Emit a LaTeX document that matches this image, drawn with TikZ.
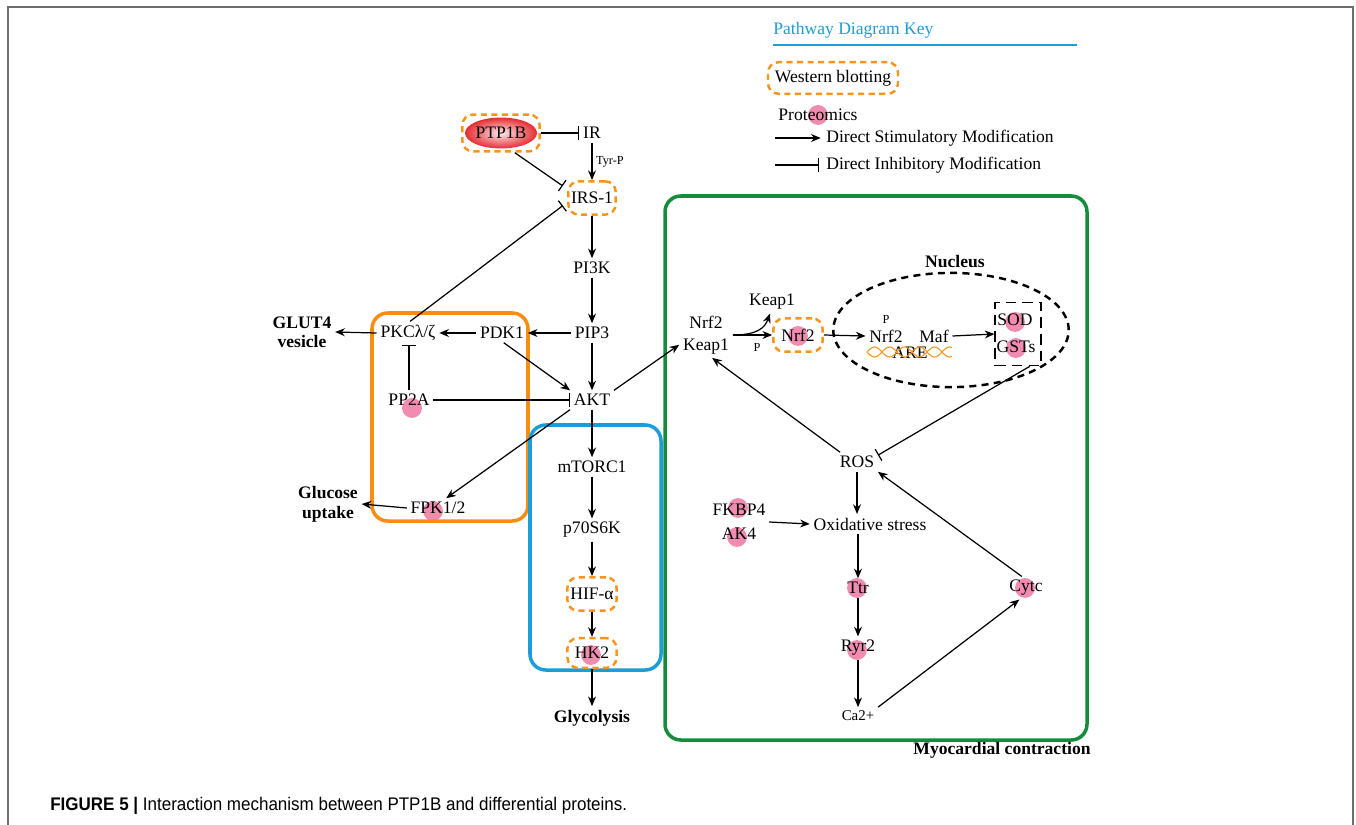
\documentclass[tikz,border=0pt]{standalone}
\usepackage{fontspec}
\setmainfont{Liberation Serif}
\newfontfamily\capfont[FakeStretch=0.93]{Liberation Sans}
\usetikzlibrary{arrows.meta, positioning, calc, backgrounds, shapes.geometric}
\definecolor{wbcolor}{RGB}{247, 148, 29}
\definecolor{protcolor}{RGB}{240, 140, 175}
\definecolor{ptpcolor}{RGB}{230, 45, 50}
\definecolor{glucocolor}{RGB}{247, 142, 20}
\definecolor{mtorcolor}{RGB}{27, 157, 217}
\definecolor{myocolor}{RGB}{20, 140, 60}
\definecolor{framecolor}{RGB}{110, 110, 110}

\begin{document}
\begin{tikzpicture}[
        x=0.02cm, y=-0.02cm,
        font=\fontsize{10}{12.5}\selectfont,
        >={Stealth[length=5.5pt, width=4.5pt]},
        gene/.style={inner sep=2pt, align=center},
        small/.style={inner sep=1pt, font=\fontsize{7}{8}\selectfont},
        outcome/.style={inner sep=2pt, align=center, font=\fontsize{10}{11.5}\selectfont\bfseries},
        wb/.style={draw=wbcolor, line width=1.4pt, dash pattern=on 3.5pt off 2.5pt, rounded corners=6pt, inner sep=1pt},
        pdot/.style={circle, fill=protcolor, minimum size=11.3pt, inner sep=0pt},
        stim/.style={->, line width=0.7pt},
        inhib/.style={-{Bar[width=7.5pt]}, line width=0.7pt},
        zone/.style={line width=2pt, rounded corners=9pt}
    ]
        \useasboundingbox (0,0) rectangle (1356,825);
        \draw[framecolor, line width=1.1pt] (8,825) -- (8,7) -- (1353,7) -- (1353,825);

        % Pathway boxes
        \draw[zone, glucocolor] (372,313) rectangle (528,521);
        \draw[zone, mtorcolor] (530,425) rectangle (661,670);
        \draw[zone, myocolor] (665,196) rectangle (1087,740);

        % Insulin signalling
        \node (ptp) [wb, minimum width=44pt, minimum height=21pt] at (501,133) {PTP1B};
        \node (ir) [gene] at (592,133) {IR};
        \node (irs) [wb, minimum width=27pt, minimum height=19pt] at (592,198) {IRS-1};
        \node (pi3k) [gene] at (592,268) {PI3K};
        \node (pip3) [gene] at (592,333) {PIP3};
        \node (pdk) [gene] at (502,333) {PDK1};
        \node (pkc) [gene] at (408,333) {PKCλ/ζ};
        \node (glut) [outcome, font=\fontsize{10}{11}\selectfont\bfseries] at (302,332) {GLUT4\\vesicle};
        \node (pp2a) [gene] at (409,400) {PP2A};
        \node (akt) [gene] at (592,400) {AKT};
        \node (fpk) [gene] at (438,508) {FPK1/2};
        \node (glucose) [outcome] at (328,504) {Glucose\\uptake};

        % mTOR branch
        \node (mtorc) [gene] at (592,467) {mTORC1};
        \node (p70) [gene] at (592,530) {p70S6K};
        \node (hif) [wb, minimum width=28pt, minimum height=19pt] at (592,594) {HIF-α};
        \node (hk) [wb, minimum width=28pt, minimum height=17pt] at (592,653) {HK2};
        \node (glyco) [outcome] at (592,718) {Glycolysis};

        % Nrf2 / Keap1 and nucleus
        \node (nk) [gene] at (706,335) {Nrf2\\Keap1};
        \node (keap) [gene] at (772,302) {Keap1};
        \node (nrf) [wb, minimum width=28pt, minimum height=19pt] at (798,335) {Nrf2};
        \node (nucnrf) [gene] at (886,336) {Nrf2};
        \node (maf) [gene] at (934,336) {Maf};
        \node (are) [gene] at (910,353) {ARE};
        \node (sodbox) [draw, line width=0.8pt, dash pattern=on 6pt off 3.5pt, minimum width=26pt, minimum height=36pt] at (1018,334) {};
        \node (sod) [gene] at (1015,320) {SOD};
        \node (gst) [gene] at (1016,347) {GSTs};
        \node (nucleus) [ellipse, draw, line width=1.4pt, dash pattern=on 4pt off 3pt, minimum width=134pt, minimum height=65pt, inner sep=0pt] at (951,330) {};
        \node (nuctxt) [outcome] at (955,262) {Nucleus};
        \node (p1) [small] at (757,347) {P};
        \node (p2) [small] at (886,319) {P};

        % Myocardial contraction
        \node (ros) [gene] at (857,462) {ROS};
        \node (ox) [gene] at (870,524) {Oxidative stress};
        \node (fa) [gene, font=\fontsize{10}{13.5}\selectfont] at (739,522) {FKBP4\\AK4};
        \node (ttr) [gene] at (858,588) {Ttr};
        \node (ryr) [gene] at (858,648) {Ryr2};
        \node (ca) [gene, font=\fontsize{8.5}{10}\selectfont] at (858,716) {Ca2+};
        \node (cytc) [gene] at (1026,588) {Cytc};
        \node (myo) [outcome] at (1002,750) {Myocardial contraction};

        % Proteomics dots and PTP1B ellipse
        \begin{scope}[on background layer]
            \shade[inner color=ptpcolor!10, outer color=ptpcolor] (ptp.center) ellipse [x radius=20.5pt, y radius=8.8pt];
            \node[pdot] (pp2adot) at (412,408) {};
            \node[pdot] (fpkdot) at (433,511) {};
            \node[pdot] (hkdot) at (591,655) {};
            \node[pdot] (nrfdot) at (798,336) {};
            \node[pdot] (soddot) at (1015,322) {};
            \node[pdot] (gstdot) at (1016,348) {};
            \node[pdot] (fkdot) at (738,508) {};
            \node[pdot] (akdot) at (737,537) {};
            \node[pdot] (ttrdot) at (857,588) {};
            \node[pdot] (ryrdot) at (857,650) {};
            \node[pdot] (cytdot) at (1025,588) {};
            \node[pdot] (keydot) at (818,115) {};
        \end{scope}

        % ARE helix
        \draw[wbcolor, line width=0.6pt, domain=867:952, samples=80] plot (\x, {352+5*sin((\x-867)*12)});
        \draw[wbcolor, line width=0.6pt, domain=867:952, samples=80] plot (\x, {352-5*sin((\x-867)*12)});

        % Insulin connections
        \draw[inhib] (ptp.east) -- (ir.west);
        \draw[stim] (ir.south) -- (irs.north) node[small, midway, right=1pt] (tyr) {Tyr-P};
        \draw[inhib, shorten >=3pt] (ptp.-55) -- (irs.160);
        \draw[inhib, shorten >=3pt] (pkc.80) -- (irs.190);
        \draw[stim] (irs.south) -- (pi3k.north);
        \draw[stim] (pi3k.south) -- (pip3.north);
        \draw[stim] (pip3.west) -- (pdk.east);
        \draw[stim] (pdk.west) -- (pkc.east);
        \draw[stim] (pkc.west) -- (glut.east);
        \draw[inhib] (pp2a.north) -- (pp2a.north |- pkc.south);
        \draw[inhib] (pp2a.east) -- (akt.west);
        \draw[stim] (pip3.south) -- (akt.north);
        \draw[stim] (pdk.-80) -- (akt.north west);
        \draw[stim] (akt.south west) -- (fpk.50);
        \draw[stim] (fpk.west) -- (glucose.east);
        \draw[stim] (akt.north east) -- (nk.-160);

        % mTOR connections
        \draw[stim] (akt.south) -- (mtorc.north);
        \draw[stim] (mtorc.south) -- (p70.north);
        \draw[stim] (p70.south) -- (hif.north);
        \draw[stim] (hif.south) -- (hk.north);
        \draw[stim] (hk.south) -- (glyco.north);

        % Nrf2 connections
        \draw[stim] (nk.east) .. controls +(25,0) and +(-5,14) .. (keap.-100);
        \draw[stim] (nk.east) -- (nrf.west);
        \draw[stim] (nrf.east) -- (nucnrf.west);
        \draw[stim] (maf.east) -- (sodbox.west);
        \draw[inhib] (sodbox.-70) -- (ros.18);
        \draw[stim] (ros.150) -- (nk.-75);

        % Myocardial connections
        \draw[stim] (ros.south) -- (ros.south |- ox.north);
        \draw[stim] (fa.east) -- (ox.west);
        \draw[stim] (ox.south -| ttr.north) -- (ttr.north);
        \draw[stim] (ttr.south) -- (ryr.north);
        \draw[stim] (ryr.south) -- (ca.north);
        \draw[stim] (ca.north east) -- (cytc.-120);
        \draw[stim] (cytc.110) -- (ros.-25);

        % Legend
        \node (keytitle) [inner sep=0pt, anchor=west, text=mtorcolor] at (773,30) {Pathway Diagram Key};
        \draw[mtorcolor, line width=1pt] (773,45) -- (1077,45);
        \node (keywb) [wb, minimum width=74pt, minimum height=18pt] at (833,78) {Western blotting};
        \node (keyprot) [inner sep=0pt] at (818,115) {Proteomics};
        \node (keystim) [inner sep=0pt, anchor=west] at (826,138) {Direct Stimulatory Modification};
        \node (keyinhib) [inner sep=0pt, anchor=west] at (826,165) {Direct Inhibitory Modification};
        \coordinate (stimstart) at (775,138);
        \coordinate (inhibstart) at (775,165);
        \draw[stim, shorten >=3pt] (stimstart) -- (keystim.west);
        \draw[inhib, shorten >=4pt] (inhibstart) -- (keyinhib.west);

        % Caption
        \node (caption) [inner sep=0pt, anchor=west, font=\capfont\fontsize{10.4}{12}\selectfont] at (50,806) {\textbf{FIGURE 5 |} Interaction mechanism between PTP1B and differential proteins.};
    \end{tikzpicture}
\end{document}
